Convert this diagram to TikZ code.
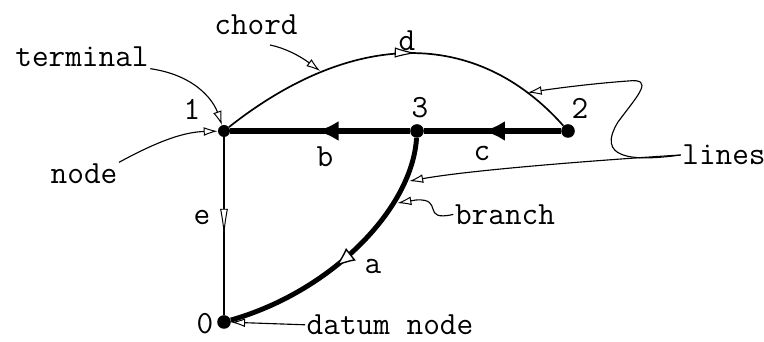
\documentclass[tikz,border=0pt]{standalone}
\usepackage{fontspec}
\usepackage{tikz}
\usetikzlibrary{arrows.meta,decorations.markings}

\tikzset{
  fat/.tip={Latex[length=5.5mm, width=5mm]},
  hollow/.tip={Latex[open, length=5mm, width=4mm, line width=1pt, fill=white]},
  slim/.tip={Latex[open, length=5.5mm, width=2.6mm, line width=0.8pt, fill=white]},
  needle/.tip={Latex[open, length=7mm, width=2mm, line width=0.7pt, fill=white]},
  small/.tip={Latex[open, length=3.5mm, width=2.2mm, line width=0.7pt, fill=white]},
}

\begin{document}
\begin{tikzpicture}[
    font=\ttfamily\fontsize{23}{27}\selectfont,
    dot/.style={circle, fill=black, minimum size=3.4mm, inner sep=0pt},
    lbl/.style={inner sep=1pt},
    heavy/.style={line width=4pt},
    chordln/.style={line width=1.2pt},
    thin/.style={line width=0.8pt},
    callout/.style={line width=0.8pt, -small},
    midtip/.style 2 args={postaction={decorate},
      decoration={markings, mark=at position #1 with {\arrow{#2}}}},
  ]
    \useasboundingbox (0,0) rectangle (19.1,8.55);

    \node[dot, minimum size=3mm] (n1) at (5.6,5.275) {};
    \foreach \i/\x/\y in {3/10.425/5.275, 2/14.2/5.275, 0/5.6/0.5}
      \node[dot] (n\i) at (\x,\y) {};

    \foreach \i/\x/\y in {1/4.8/5.825, 3/10.5/5.85, 2/14.5/5.85, 0/5.125/0.45}
      \node[lbl] (t\i) at (\x,\y) {\i};
    \foreach \e/\x/\y in {a/9.325/1.89, b/8.125/4.625, c/12.05/4.71, d/10.175/7.525, e/5.05/3.125}
      \node[lbl] (t\e) at (\x,\y) {\e};

    \draw[heavy, midtip={0.57}{fat}] (n2) -- (n3);
    \draw[heavy, midtip={0.52}{fat}] (n3) -- (n1);
    \draw[thin, midtip={0.56}{needle}] (n1) -- (n0);
    \draw[chordln, midtip={0.55}{slim}] (n1) .. controls (8.825,7.82) and (11.91,7.85) .. (n2)
      coordinate[pos=0.25] (ch1) coordinate[pos=0.87] (ch2);
    \draw[line width=3.5pt, midtip={0.57}{hollow}] (n3) .. controls (10.3,3.3) and (8.25,1.25) .. (n0)
      coordinate[pos=0.2] (br1) coordinate[pos=0.3] (br2);

    \node[lbl] (terminal) at (2.05,7.125) {terminal};
    \node[lbl] (chord) at (6.4,7.925) {chord};
    \node[lbl] (nodetxt) at (2.1,4.2) {node};
    \node[lbl] (lines) at (18.1,4.675) {lines};
    \node[lbl] (branch) at (12.625,3.19) {branch};
    \node[lbl] (datum) at (9.75,0.43) {datum node};
    \coordinate (chordtail) at (6.75,7.425);

    \draw[callout] (terminal.south east) .. controls (5.0,6.65) and (5.375,5.925) .. (n1);
    \draw[callout, shorten >=1pt] (chordtail) .. controls (7.125,7.35) and (7.5,7.15) .. (ch1);
    \draw[callout] (nodetxt.north east) .. controls (4.0,5.05) and (4.625,5.25) .. (n1);
    \draw[callout] (lines.west) .. controls (15.75,4.5) and (14.9,4.6) .. (15.45,5.5)
      .. controls (15.95,6.175) and (16.375,6.6) .. (15.7,6.525)
      .. controls (15.0,6.475) and (14.125,6.375) .. (ch2);
    \draw[callout, shorten >=3pt] (lines.west) .. controls (15.0,4.55) and (11.75,4.3) .. (br1);
    \draw[callout, shorten >=3pt] (branch.west) .. controls (10.5,3.0) and (11.125,3.6) .. (10.4,3.55) -- (br2);
    \draw[callout] (datum.west) -- (n0);
\end{tikzpicture}
\end{document}
